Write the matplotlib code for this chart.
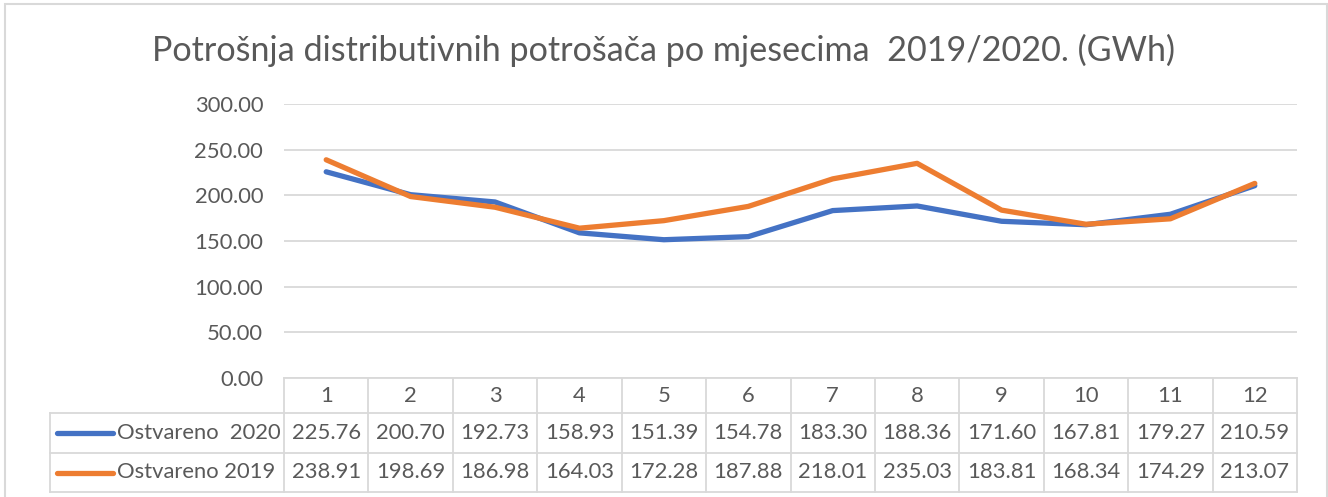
import matplotlib
matplotlib.use("Agg")
import matplotlib.pyplot as plt
from matplotlib.patches import Rectangle
from matplotlib.lines import Line2D

plt.rcParams["font.family"] = ["Lato", "DejaVu Sans"]

months = ["1", "2", "3", "4", "5", "6", "7", "8", "9", "10", "11", "12"]
real_2020 = [225.76, 200.70, 192.73, 158.93, 151.39, 154.78, 183.30, 188.36, 171.60, 167.81, 179.27, 210.59]
real_2019 = [238.91, 198.69, 186.98, 164.03, 172.28, 187.88, 218.01, 235.03, 183.81, 168.34, 174.29, 213.07]
series_names = ["Ostvareno  2020", "Ostvareno 2019"]
yticks = [0, 50, 100, 150, 200, 250, 300]

BLUE = "#4472C4"
ORANGE = "#ED7D31"
GRID = "#D9D9D9"
TEXT = "#595959"
FS = 15.8

W, H = 1328, 497
fig = plt.figure(figsize=(W / 100, H / 100), dpi=100)

# outer chart border
fig.patches.append(Rectangle((5 / W, -0.1), 1322 / W, 1 - 4 / H + 0.1, transform=fig.transFigure,
                             fill=False, edgecolor=GRID, linewidth=1.5))

left, right, top, bottom = 284, 1297, 104, 378
ax = fig.add_axes([left / W, 1 - bottom / H, (right - left) / W, (bottom - top) / H])

x = [i + 0.5 for i in range(len(months))]
ax.plot(x, real_2020, color=BLUE, linewidth=3.8, solid_capstyle="round", zorder=3)
ax.plot(x, real_2019, color=ORANGE, linewidth=3.8, solid_capstyle="round", zorder=3)

ax.set_xlim(0, 12)
ax.set_ylim(0, 300)
ax.set_yticks(yticks)
ax.set_yticklabels([f"{v:.2f}" for v in yticks], color=TEXT, fontsize=FS)
ax.tick_params(axis="y", length=0, pad=15)
ax.set_xticks([])
ax.grid(axis="y", color=GRID, linewidth=1.3)
ax.set_axisbelow(True)
for s in ax.spines.values():
    s.set_visible(False)

fig.text(0.5, 1 - 50 / H, "Potrošnja distributivnih potrošača po mjesecima  2019/2020. (GWh)",
         ha="center", va="center", fontsize=24.6, color=TEXT)

# data table below the axes
ph = bottom - top
row_edges = [0, -35 / ph, -75 / ph, -114 / ph]
tr = ax.get_xaxis_transform()
legend_x = (50 - left) / ((right - left) / 12)
lk = dict(transform=tr, clip_on=False, color=GRID, linewidth=1.3)

ax.add_line(Line2D([0, 12], [0, 0], **lk))
for yb in row_edges[1:]:
    ax.add_line(Line2D([legend_x, 12], [yb, yb], **lk))
for i in range(13):
    ax.add_line(Line2D([i, i], [0, row_edges[-1]], **lk))
ax.add_line(Line2D([legend_x, legend_x], [row_edges[1], row_edges[-1]], **lk))

def mid(r):
    return (row_edges[r] + row_edges[r + 1]) / 2

for i, m in enumerate(months):
    ax.text(i + 0.5, mid(0), m, transform=tr, ha="center", va="center", fontsize=FS, color=TEXT)

unit = (right - left) / 12
for r, (name, vals, col) in enumerate([(series_names[0], real_2020, BLUE),
                                        (series_names[1], real_2019, ORANGE)], start=1):
    ym = mid(r)
    ax.add_line(Line2D([(57 - left) / unit, (113 - left) / unit], [ym, ym], transform=tr,
                       clip_on=False, color=col, linewidth=3.8, solid_capstyle="round"))
    ax.text((117 - left) / unit, ym, name, transform=tr, ha="left", va="center",
            fontsize=FS, color=TEXT)
    for i, v in enumerate(vals):
        ax.text(i + 0.5, ym, f"{v:.2f}", transform=tr, ha="center", va="center",
                fontsize=FS, color=TEXT)

fig.savefig("out.png", dpi=100)
